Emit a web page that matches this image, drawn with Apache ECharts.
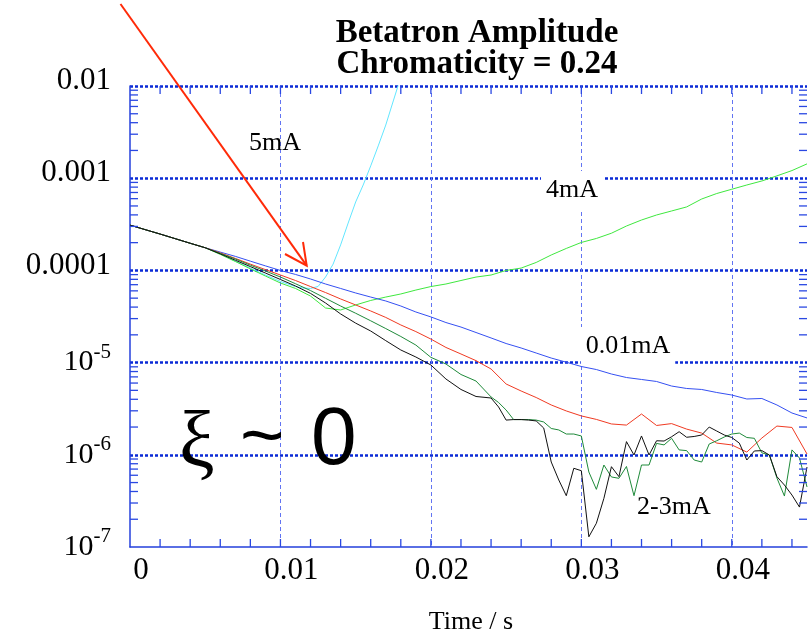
<!DOCTYPE html>
<html><head><meta charset="utf-8">
<script src="https://cdn.jsdelivr.net/npm/echarts@6/dist/echarts.min.js"></script>
<style>html,body{margin:0;padding:0;background:#fff}#c{width:810px;height:640px}</style>
</head><body><div id="c"></div>
<script>
// ---- data (time in s, amplitude) ----
const timeCoarse = [0,0.001,0.002,0.003,0.004,0.005,0.006,0.007,0.008,0.009,0.010,0.011,0.012,0.013,0.014,0.015,0.016,0.017,0.018,0.019,0.020,0.021,0.022,0.023,0.024,0.025,0.026,0.027,0.028,0.029,0.030,0.031,0.032,0.033,0.034,0.035,0.036,0.037,0.038,0.039,0.040,0.041,0.042,0.043,0.044,0.045];
const timeCyan = [0,0.001,0.002,0.003,0.004,0.005,0.006,0.007,0.008,0.009,0.010,0.011,0.0115,0.012,0.0125,0.013,0.0135,0.014,0.0145,0.015,0.0155,0.016,0.0165,0.017,0.0175,0.018];
const timeNoisy = [0,0.001,0.002,0.003,0.004,0.005,0.006,0.007,0.008,0.009,0.010,0.011,0.012,0.013,0.014,0.015,0.016,0.017,0.018,0.019,0.020,0.021,0.022,0.023,
  0.024,0.0245,0.025,0.0255,0.026,0.0265,0.027,0.0275,0.028,0.0285,0.029,0.0295,0.030,0.0305,0.031,0.0315,0.032,0.0325,0.033,0.0335,0.034,0.0345,0.035,0.0355,0.036,0.0365,0.037,0.0375,0.038,0.0385,0.039,0.0395,0.040,0.0405,0.041,0.0415,0.042,0.0425,0.043,0.0435,0.044,0.0445,0.045];

const amp001mA = [3.10e-4,2.77e-4,2.48e-4,2.21e-4,1.97e-4,1.76e-4,
  1.58e-4,1.42e-4,1.26e-4,1.12e-4,9.98e-5,9.04e-5,8.07e-5,7.12e-5,6.37e-5,5.69e-5,
  5.14e-5,4.66e-5,4.11e-5,3.54e-5,3.13e-5,2.72e-5,2.43e-5,2.12e-5,1.85e-5,1.61e-5,
  1.44e-5,1.27e-5,1.12e-5,1.01e-5,9.07e-6,8.41e-6,7.52e-6,6.89e-6,6.56e-6,6.24e-6,
  5.57e-6,5.24e-6,5.11e-6,4.74e-6,4.45e-6,4.03e-6,4.08e-6,3.47e-6,2.84e-6,2.51e-6];
const amp1mA = [3.10e-4,2.77e-4,2.48e-4,2.21e-4,1.97e-4,1.76e-4,
  1.55e-4,1.35e-4,1.17e-4,1.02e-4,8.91e-5,7.77e-5,6.68e-5,5.75e-5,4.90e-5,4.22e-5,
  3.63e-5,3.09e-5,2.56e-5,2.17e-5,1.80e-5,1.46e-5,1.24e-5,1.05e-5,8.52e-6,5.86e-6,
  4.92e-6,4.18e-6,3.47e-6,2.99e-6,2.64e-6,2.42e-6,2.16e-6,2.10e-6,2.77e-6,2.08e-6,
  2.18e-6,1.90e-6,1.72e-6,1.34e-6,1.28e-6,1.07e-6,1.52e-6,2.05e-6,1.98e-6,1.02e-6];
const amp4mA = [3.10e-4,2.77e-4,2.48e-4,2.21e-4,1.97e-4,1.76e-4,
  1.49e-4,1.25e-4,1.04e-4,8.69e-5,7.30e-5,6.37e-5,5.27e-5,3.91e-5,3.72e-5,4.22e-5,
  4.72e-5,5.14e-5,5.55e-5,6.12e-5,6.68e-5,7.12e-5,7.77e-5,8.47e-5,8.91e-5,9.98e-5,
  1.06e-4,1.22e-4,1.47e-4,1.73e-4,2.01e-4,2.22e-4,2.53e-4,3.03e-4,3.52e-4,3.99e-4,
  4.41e-4,4.88e-4,5.95e-4,6.82e-4,7.59e-4,8.44e-4,9.33e-4,1.06e-3,1.21e-3,1.43e-3];
const amp5mA = [3.10e-4,2.77e-4,2.48e-4,2.21e-4,1.97e-4,1.76e-4,
  1.51e-4,1.26e-4,1.06e-4,8.91e-5,7.59e-5,6.68e-5,6.44e-5,6.37e-5,6.69e-5,8.48e-5,
  1.17e-4,1.89e-4,3.26e-4,5.52e-4,8.44e-4,1.36e-3,2.24e-3,3.77e-3,6.88e-3,1.25e-2];
const amp2mA = [3.10e-4,2.77e-4,2.48e-4,2.21e-4,1.97e-4,1.76e-4,
  1.53e-4,1.33e-4,1.14e-4,9.85e-5,8.48e-5,7.17e-5,6.04e-5,4.98e-5,4.11e-5,3.43e-5,
  2.84e-5,2.34e-5,1.92e-5,1.55e-5,1.14e-5,9.66e-6,7.43e-6,6.31e-6,
  4.24e-6,3.69e-6,3.06e-6,2.41e-6,2.41e-6,2.41e-6,2.38e-6,2.27e-6,1.93e-6,1.86e-6,
  1.68e-6,1.68e-6,1.60e-6,6.51e-7,4.22e-7,7.75e-7,5.75e-7,5.56e-7,7.47e-7,3.60e-7,
  7.75e-7,7.75e-7,1.33e-6,1.28e-6,1.51e-6,1.13e-6,1.11e-6,8.78e-7,8.35e-7,1.31e-6,
  1.42e-6,1.56e-6,1.68e-6,1.72e-6,1.54e-6,1.51e-6,1.05e-6,9.95e-7,5.60e-7,3.57e-7,
  1.13e-6,9.23e-7,4.48e-7];
const amp3mA = [3.10e-4,2.77e-4,2.48e-4,2.21e-4,1.97e-4,1.76e-4,
  1.51e-4,1.29e-4,1.10e-4,9.37e-5,7.97e-5,6.77e-5,5.63e-5,4.43e-5,3.37e-5,2.68e-5,
  2.20e-5,1.73e-5,1.37e-5,1.15e-5,9.42e-6,6.64e-6,5.11e-6,4.29e-6,
  4.13e-6,3.30e-6,2.38e-6,2.41e-6,2.41e-6,2.38e-6,2.33e-6,1.95e-6,8.35e-7,5.33e-7,
  3.60e-7,7.14e-7,6.72e-7,1.29e-7,1.81e-7,3.37e-7,7.43e-7,5.79e-7,1.39e-6,9.95e-7,
  1.60e-6,9.95e-7,1.42e-6,1.41e-6,1.57e-6,1.78e-6,1.55e-6,1.58e-6,1.64e-6,2.00e-6,
  1.81e-6,1.64e-6,1.54e-6,1.34e-6,8.78e-7,1.10e-6,1.11e-6,9.95e-7,5.79e-7,4.70e-7,
  3.66e-7,2.71e-7,7.37e-7];

// axis ticks
const xTickValues = [0.002,0.004,0.006,0.008,0.010,0.012,0.014,0.016,0.018,0.020,0.022,0.024,0.026,0.028,0.030,0.032,0.034,0.036,0.038,0.040,0.042,0.044];
const yMinorTicks = [2e-7,3e-7,4e-7,5e-7,6e-7,7e-7,8e-7,9e-7,
  2e-6,3e-6,4e-6,5e-6,6e-6,7e-6,8e-6,9e-6,
  2e-5,3e-5,4e-5,5e-5,6e-5,7e-5,8e-5,9e-5,
  2e-4,3e-4,4e-4,5e-4,6e-4,7e-4,8e-4,9e-4,
  2e-3,3e-3,4e-3,5e-3,6e-3,7e-3,8e-3,9e-3];
const xLabels = {0:'0',1:'0.01',2:'0.02',3:'0.03',4:'0.04'};
const yDecimalLabels = {'-2':'0.01','-3':'0.001','-4':'0.0001'};

const X_MIN = 0, X_MAX = 0.045, Y_MIN = 1e-7, Y_MAX = 1e-2;
const SERIF = '"Liberation Serif","Times New Roman",serif';
const FRAME = '#2440dc';
const TICK = '#2a48e2';

function zip(t, v){ return t.map((x,i)=>[x, v[i]]); }

const chart = echarts.init(document.getElementById('c'), null, {renderer:'canvas'});

function lineSeries(name, t, v, color, z){
  return {name, type:'line', data: zip(t, v), showSymbol:false, symbol:'none',
    lineStyle:{color, width:1}, itemStyle:{color}, z, clip:true, animation:false};
}

const option = {
  backgroundColor:'#fff',
  animation:false,
  grid:{left:130, top:86, width:680, height:461, containLabel:false},
  xAxis:{type:'value', min:X_MIN, max:X_MAX, interval:0.01,
    axisLine:{show:true, onZero:false, lineStyle:{color:FRAME, width:1.5}},
    axisTick:{show:false},
    axisLabel:{color:'#000', fontFamily:SERIF, fontSize:31, margin:8, padding:[0,0,0,22],
      formatter:(v)=>{ const k=Math.round(v/0.01); return Math.abs(v-k*0.01)<1e-9 && xLabels[k]!==undefined ? xLabels[k] : ''; }},
    splitLine:{show:true, showMinLine:false, showMaxLine:false, lineStyle:{color:'#6274f2', width:1, type:[4,3]}}
  },
  yAxis:{type:'log', logBase:10, min:Y_MIN, max:Y_MAX,
    axisLine:{show:true, lineStyle:{color:FRAME, width:1.5}},
    axisTick:{show:false},
    axisLabel:{color:'#000', fontFamily:SERIF, margin:19,
      formatter:(v)=>{ const e=Math.round(Math.log10(v)); if (yDecimalLabels[e]) return '{d|'+yDecimalLabels[e]+'}'; return '{b|10}{s|'+e+'}'; },
      rich:{
        d:{fontFamily:SERIF, fontSize:31, color:'#000', padding:[0,0,10,0]},
        b:{fontFamily:SERIF, fontSize:30, color:'#000', lineHeight:42},
        s:{fontFamily:SERIF, fontSize:21, color:'#000', verticalAlign:'top', lineHeight:21}
      }},
    splitLine:{show:true, showMinLine:false, showMaxLine:false, lineStyle:{color:'#0a2ad6', width:2.5, type:[3,2]}}
  },
  series:[
    // ticks drawn from tick value arrays through the axes
    {type:'custom', name:'yticks', data: yMinorTicks.map(v=>[X_MIN, v]), z:5, silent:true, clip:false,
      renderItem:(p, api)=>{ const v=api.value(1); const l=api.coord([X_MIN, v]); const r=api.coord([X_MAX, v]);
        return {type:'group', children:[
          {type:'line', shape:{x1:l[0], y1:l[1], x2:l[0]+8, y2:l[1]}, style:{stroke:TICK, lineWidth:1.3}},
          {type:'line', shape:{x1:r[0]-8, y1:r[1], x2:r[0], y2:r[1]}, style:{stroke:TICK, lineWidth:1.3}}]}; }},
    {type:'custom', name:'xticks', data: xTickValues.map(t=>[t, Y_MIN]), z:5, silent:true, clip:false,
      renderItem:(p, api)=>{ const t=api.value(0); const b=api.coord([t, Y_MIN]); const tp=api.coord([t, Y_MAX]);
        return {type:'group', children:[
          {type:'line', shape:{x1:b[0], y1:b[1], x2:b[0], y2:b[1]-8}, style:{stroke:TICK, lineWidth:1.3}},
          {type:'line', shape:{x1:tp[0], y1:tp[1], x2:tp[0], y2:tp[1]+8}, style:{stroke:TICK, lineWidth:1.3}}]}; }},
    lineSeries('5mA', timeCyan, amp5mA, '#62e6ff', 3),
    lineSeries('4mA', timeCoarse, amp4mA, '#3fe83f', 3),
    lineSeries('0.01mA', timeCoarse, amp001mA, '#3550f2', 3),
    lineSeries('1mA', timeCoarse, amp1mA, '#f03a22', 3),
    lineSeries('2mA', timeNoisy, amp2mA, '#1f8a3a', 3),
    lineSeries('3mA', timeNoisy, amp3mA, '#111111', 3)
  ],
  graphic:[
    {type:'text', z:100, style:{text:'Betatron Amplitude\nChromaticity = 0.24', x:477, y:18, align:'center', verticalAlign:'top',
      font:'bold 33px '+SERIF, lineHeight:31, fill:'#000'}},
    {type:'text', z:100, style:{text:'Time / s', x:471, y:622, align:'center', verticalAlign:'middle', font:'26px '+SERIF, fill:'#000'}},
    {type:'text', z:100, style:{text:'5mA', x:249, y:143, align:'left', verticalAlign:'middle', font:'26px '+SERIF, fill:'#000'}},
    {type:'text', z:1, style:{text:'4mA', x:572, y:190, align:'center', verticalAlign:'middle', font:'26px '+SERIF, fill:'#000',
      backgroundColor:'#fff', padding:[8,5,4,5]}},
    {type:'text', z:1, style:{text:'0.01mA', x:628, y:346, align:'center', verticalAlign:'middle', font:'26px '+SERIF, fill:'#000',
      backgroundColor:'#fff', padding:[4,5,8,5]}},
    {type:'text', z:100, style:{text:'2-3mA', x:637, y:507, align:'left', verticalAlign:'middle', font:'26px '+SERIF, fill:'#000'}},
    {type:'text', z:100, style:{text:'ξ', x:179, y:446, align:'left', verticalAlign:'middle', font:'80px '+SERIF, fill:'#000'}},
    {type:'text', z:100, style:{text:'~', x:240, y:440, align:'left', verticalAlign:'middle', font:'76px "Liberation Sans",sans-serif', fill:'#000'}},
    {type:'text', z:100, style:{text:'0', x:311, y:441, align:'left', verticalAlign:'middle', font:'82px "Liberation Sans",sans-serif', fill:'#000'}},
    {type:'polyline', z:100, shape:{points:[[120.5,4],[306.7,265.7]]}, style:{stroke:'#ff2a08', lineWidth:2, fill:null}},
    {type:'polyline', z:100, shape:{points:[[285,254],[306.7,265.7],[303,242]]}, style:{stroke:'#ff2a08', lineWidth:2, fill:null}}
  ]
};
chart.setOption(option);
</script></body></html>
